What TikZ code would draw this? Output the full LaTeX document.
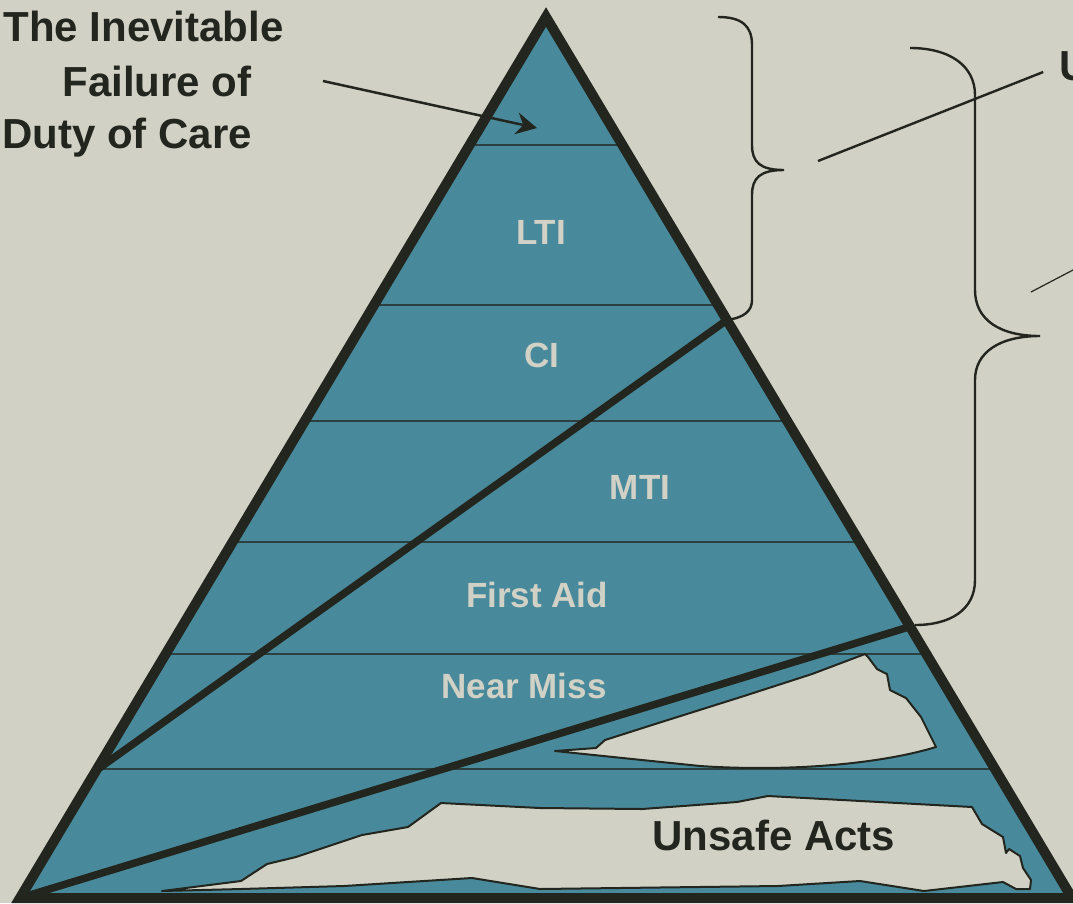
\documentclass[tikz,border=0pt]{standalone}
\usepackage{fontspec}
\setmainfont{Liberation Sans}
\usetikzlibrary{calc, arrows.meta}
\definecolor{paper}{HTML}{D1D1C5}
\definecolor{pyramid}{HTML}{488A9B}
\definecolor{ink}{HTML}{23261E}
\definecolor{seam}{HTML}{2B403F}
\tikzset{every picture/.style={line width=0.75pt}}
\tikzset{
  layer/.style={draw=seam, line width=1.6pt},
  gap/.style={fill=paper, draw=ink, line width=2pt, line join=round},
  ray/.style={draw=ink, line width=7.5pt, line cap=round},
  brace line/.style={draw=ink, line width=2.4pt},
  band label/.style={text=paper, inner sep=0pt, anchor=base, font=\bfseries\fontsize{35}{42}\selectfont},
  dark label/.style={text=ink, inner sep=0pt, font=\bfseries\fontsize{42}{50}\selectfont},
}

\begin{document}
\begin{tikzpicture}[x=1pt,y=1pt,yscale=-1,xscale=1]
    \clip (0,0) rectangle (1073,903);
    \fill[paper] (0,0) rectangle (1073,903);
    % pyramid corners
    \coordinate (top) at (546,17);
    \coordinate (bl) at (20,898);
    \coordinate (br) at (1072,898);
    \fill[pyramid] (top) -- (bl) -- (br) -- cycle;
    % layer borders
    \foreach \t in {0.1453,0.3269,0.4586,0.5959,0.7230,0.8536}
        \draw[layer] ($(top)!\t!(bl)$) -- ($(top)!\t!(br)$);
    % near miss gap
    \draw[gap] (555,751) -- (596,748) -- (605,740) -- (652,725) -- (744,696) -- (812,674) -- (865,654) -- (868,657) -- (877,669) -- (887,674) -- (890,690) -- (906,698) -- (921,717) -- (936,747) .. controls (880,764) and (790,772) .. (700,766) -- cycle;
    % unsafe acts gap
    \draw[gap] (162,891) -- (241,881) -- (267,864) -- (296,857) -- (362,835) -- (408,827) -- (441,803) -- (540,808) -- (642,809) -- (737,802) -- (768,796) -- (972,807) -- (982,824) -- (1003,837) -- (1006,853) -- (1009,849) -- (1020,856) -- (1023,868) -- (1031,880) -- (1030,889) -- (1016,889) -- (1003,882) -- (924,891) -- (860,881) -- (778,886) -- (540,889) -- (472,878) -- (344,886) -- (241,889) -- cycle;
    % the two cut lines
    \draw[ray] ($(top)!0.855!(bl)$) -- ($(top)!0.344!(br)$);
    \draw[ray] (bl) -- ($(top)!0.692!(br)$);
    \draw[draw=ink, line width=10pt, line join=miter] (top) -- (bl) -- (br) -- cycle;
    % labels inside
    \node[band label] (lti) at (541,244) {LTI};
    \node[band label] (ci) at (542,367) {CI};
    \node[band label] (mti) at (640,499) {MTI};
    \node[band label] (firstaid) at (537,607) {First Aid};
    \node[band label] (nearmiss) at (524,698) {Near Miss};
    \node[dark label, anchor=base] (unsafe) at (774,850) {Unsafe Acts};
    % left caption
    \node[dark label, anchor=base west] (title1) at (3,41) {The Inevitable};
    \node[dark label, anchor=base west] (title2) at (62,96) {Failure of};
    \node[dark label, anchor=base west] (title3) at (2,148) {Duty of Care};
    \coordinate (arrowStart) at (323,81);
    \coordinate (arrowTip) at (537,128);
    \draw[draw=ink, line width=2.5pt, -{Stealth[length=21pt,width=22pt,inset=7pt]}] (arrowStart) -- (arrowTip);
    % braces on the right
    \draw[brace line] (718,17) .. controls (742,17) and (752,26) .. (752,45) -- (752,145) .. controls (752,162) and (760,170) .. (784,170) .. controls (760,170) and (752,178) .. (752,195) -- (752,300) .. controls (752,311) and (744,318) .. (726,320);
    \draw[brace line] (910,48) .. controls (950,48) and (975,66) .. (975,95) -- (975,290) .. controls (975,320) and (1000,336) .. (1040,336) .. controls (1000,336) and (975,352) .. (975,380) -- (975,580) .. controls (975,610) and (950,625) .. (915,625);
    \node[dark label, anchor=base west] (uLabel) at (1059,80) {U};
    \coordinate (leadA) at (818,161);
    \coordinate (leadB) at (1031,292);
    \coordinate (leadBend) at (1094,259);
    \draw[draw=ink, line width=2.4pt, shorten >=17pt] (leadA) -- (uLabel.west);
    \draw[draw=ink, line width=1.2pt] (leadB) -- (leadBend);
\end{tikzpicture}
\end{document}
